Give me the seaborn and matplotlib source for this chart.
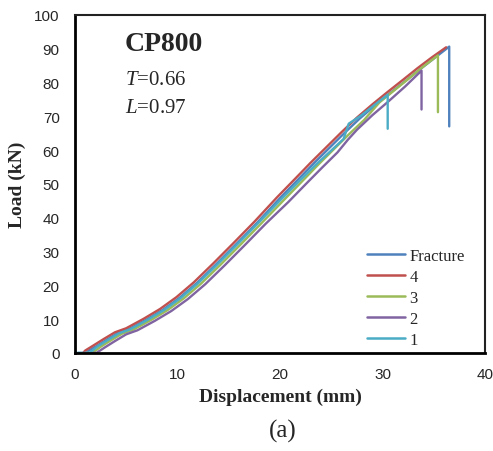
import numpy as np
import pandas as pd
import matplotlib
matplotlib.use("Agg")
import matplotlib.pyplot as plt
import seaborn as sns

# load-displacement curves (displacement mm, load kN)
x_fracture = [0.3, 1.1, 1.3, 2.1, 3.1, 4.2, 5.3, 7.0, 8.6, 10.2, 11.9, 13.8, 15.8, 17.8, 20.0, 21.8, 23.3,
              24.8, 26.3, 27.8, 29.3, 30.8, 32.3, 33.7, 35.1, 36.5, 36.5]
y_fracture = [0.0, 0.0, 0.6, 2.0, 3.9, 5.9, 7.1, 9.9, 12.8, 16.3, 20.7, 26.3, 32.4, 38.6, 45.8, 51.4, 56.1,
              60.6, 65.1, 69.4, 73.3, 77.0, 80.6, 84.0, 87.3, 90.6, 67.0]

x_4 = [0.8, 1.0, 1.8, 2.8, 3.9, 5.0, 6.7, 8.3, 9.9, 11.6, 13.5, 15.5, 17.5, 19.7, 21.5, 23.0, 24.5,
       26.0, 27.5, 29.0, 30.5, 32.0, 33.4, 34.8, 36.2]
y_4 = [0.0, 0.7, 2.2, 4.1, 6.1, 7.3, 10.1, 13.0, 16.5, 20.9, 26.5, 32.6, 38.8, 46.0, 51.6, 56.3, 60.8,
       65.3, 69.6, 73.5, 77.2, 80.8, 84.2, 87.4, 90.4]

x_3 = [1.2, 1.7, 2.5, 3.5, 4.6, 5.7, 7.4, 9.0, 10.6, 12.3, 14.2, 16.2, 18.2, 20.4, 22.2, 23.7, 25.2,
       26.7, 28.2, 29.7, 31.2, 32.7, 34.1, 35.4, 35.4]
y_3 = [0.0, 0.0, 1.8, 3.7, 5.7, 6.9, 9.7, 12.6, 16.1, 20.5, 26.1, 32.2, 38.4, 45.3, 50.9, 55.6, 60.1,
       64.6, 68.9, 74.1, 77.8, 81.5, 85.0, 88.0, 71.2]

x_2 = [1.6, 2.1, 2.9, 3.9, 5.0, 6.1, 7.8, 9.4, 11.0, 12.7, 14.6, 16.6, 18.6, 20.8, 22.6, 24.1, 25.6,
       26.6, 27.5, 29.0, 30.5, 32.2, 33.8, 33.8]
y_2 = [0.0, 0.0, 1.6, 3.5, 5.5, 6.7, 9.5, 12.4, 15.9, 20.3, 25.9, 32.0, 38.2, 44.6, 50.2, 54.8, 59.3,
       63.0, 66.0, 70.3, 74.2, 78.8, 83.5, 72.0]

x_1 = [0.0, 1.4, 2.2, 3.2, 4.3, 5.4, 7.1, 8.7, 10.3, 12.0, 13.9, 15.9, 17.9, 20.1, 21.9, 23.4, 24.9,
       26.2, 26.7, 27.9, 29.2, 30.5, 30.5]
y_1 = [0.0, 0.0, 1.9, 3.8, 5.8, 7.0, 9.8, 12.7, 16.2, 20.6, 26.2, 32.3, 38.5, 45.4, 50.9, 55.4, 59.6,
       63.3, 67.8, 70.2, 73.3, 76.4, 66.3]

series = ["Fracture", "4", "3", "2", "1"]
colors = ["#4F81BD", "#C0504D", "#9BBB59", "#8064A2", "#4BACC6"]

frames = []
for name, xs, ys in zip(series, [x_fracture, x_4, x_3, x_2, x_1], [y_fracture, y_4, y_3, y_2, y_1]):
    frames.append(pd.DataFrame({"disp": xs, "load": ys, "series": name}))
df = pd.concat(frames, ignore_index=True)

sns.set_style("white")
plt.rcParams["font.family"] = ["Liberation Serif", "DejaVu Serif"]
plt.rcParams["mathtext.fontset"] = "custom"
plt.rcParams["mathtext.rm"] = "Liberation Serif"
plt.rcParams["mathtext.it"] = "Liberation Serif:italic"

fig = plt.figure(figsize=(4.93, 4.52), dpi=100)
ax = fig.add_axes([0.152, 0.217, 0.832, 0.748])

sns.lineplot(data=df, x="disp", y="load", hue="series", hue_order=series,
             palette=colors, estimator=None, sort=False, linewidth=1.7, ax=ax)

ax.set_xlim(0, 40)
ax.set_ylim(0, 100)
ax.set_xticks(np.arange(0, 41, 10))
ax.set_yticks(np.arange(0, 101, 10))
ax.tick_params(length=0, labelsize=11)
ax.tick_params(axis="y", pad=11)
ax.tick_params(axis="x", pad=10)
for lab in ax.get_xticklabels() + ax.get_yticklabels():
    lab.set_fontfamily("Liberation Sans")

for side in ["left", "bottom"]:
    ax.spines[side].set_linewidth(2.0)
    ax.spines[side].set_color("black")
for side in ["top", "right"]:
    ax.spines[side].set_linewidth(1.5)
    ax.spines[side].set_color("#222222")

ax.set_xlabel("Displacement (mm)", fontsize=14, fontweight="bold", labelpad=5)
ax.set_ylabel("Load (kN)", fontsize=14, fontweight="bold", labelpad=6)

ax.text(0.122, 0.915, "CP800", transform=ax.transAxes, fontsize=20, fontweight="bold", va="center")
ax.text(0.122, 0.81, "$\\mathit{T}$=0.66", transform=ax.transAxes, fontsize=15, va="center")
ax.text(0.122, 0.725, "$\\mathit{L}$=0.97", transform=ax.transAxes, fontsize=15, va="center")

leg = ax.legend(loc="lower left", bbox_to_anchor=(0.712, 0.016), frameon=False,
                borderaxespad=0, borderpad=0, fontsize=12, handlelength=2.3,
                handletextpad=0.25, labelspacing=0.29)
for h in leg.get_lines():
    h.set_linewidth(1.8)

fig.text(0.574, 0.045, "(a)", fontsize=18, ha="center", va="center")

fig.savefig("out.png", dpi=100)
